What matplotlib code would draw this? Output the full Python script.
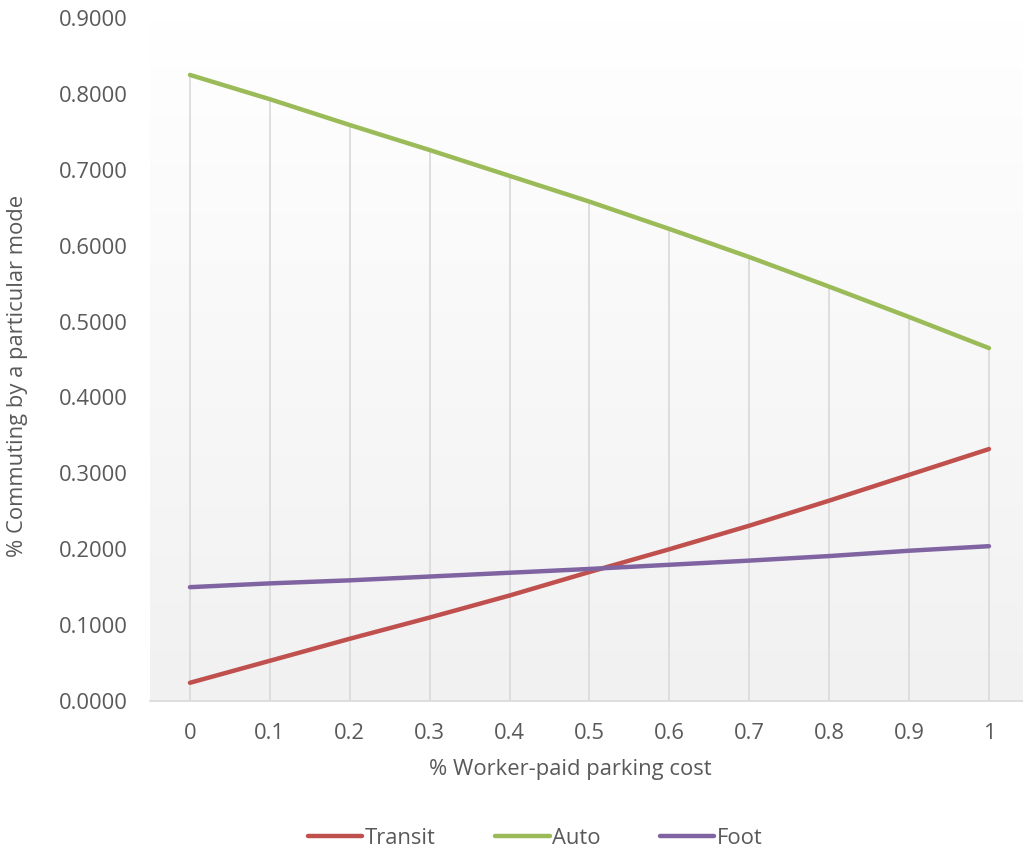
import matplotlib.pyplot as plt
import numpy as np

# worker-paid share of parking cost
cost_share = [0, 0.1, 0.2, 0.3, 0.4, 0.5, 0.6, 0.7, 0.8, 0.9, 1]
x_labels = ["0", "0.1", "0.2", "0.3", "0.4", "0.5", "0.6", "0.7", "0.8", "0.9", "1"]

# mode shares
transit = [0.024, 0.053, 0.082, 0.110, 0.139, 0.170, 0.200, 0.231, 0.264, 0.298, 0.332]
auto = [0.825, 0.793, 0.759, 0.726, 0.692, 0.658, 0.622, 0.585, 0.546, 0.506, 0.465]
foot = [0.150, 0.155, 0.159, 0.164, 0.169, 0.174, 0.1795, 0.185, 0.191, 0.198, 0.204]

y_ticks = [0.0, 0.1, 0.2, 0.3, 0.4, 0.5, 0.6, 0.7, 0.8, 0.9]

text_col = "#595959"
fs = 15.8
plt.rcParams["font.family"] = ["Open Sans", "DejaVu Sans"]

fig = plt.figure(figsize=(10.23, 8.55), dpi=100)
ax = fig.add_axes([150 / 1023, 154 / 855, 873 / 1023, 683 / 855])

xmin, xmax = -0.05, (1023 - 190) / 799
ax.set_xlim(xmin, xmax)
ax.set_ylim(0, 0.9)

# plot area gradient: white at top to light grey at bottom
grad = np.linspace(1.0, 0.0, 256).reshape(-1, 1)
c_top = np.array([1.0, 1.0, 1.0])
c_bot = np.array([0xF1, 0xF1, 0xF1]) / 255
img = c_bot + (c_top - c_bot) * grad[..., None]
ax.imshow(img, extent=[0, 1, 0, 1], transform=ax.transAxes, aspect="auto", zorder=0)

# drop lines from highest series down to the axis
tops = np.max([transit, auto, foot], axis=0)
ax.vlines(cost_share, 0, tops, color="#d9d9d9", lw=1.2, zorder=1)

ax.plot(cost_share, transit, color="#C0504D", lw=3.2, label="Transit", solid_capstyle="round", zorder=3)
ax.plot(cost_share, auto, color="#9BBB59", lw=3.2, label="Auto", solid_capstyle="round", zorder=3)
ax.plot(cost_share, foot, color="#8064A2", lw=3.2, label="Foot", solid_capstyle="round", zorder=3)

for s in ["top", "right", "left"]:
    ax.spines[s].set_visible(False)
ax.spines["bottom"].set_color("#d9d9d9")
ax.spines["bottom"].set_linewidth(1.2)

ax.set_xticks(cost_share)
ax.set_xticklabels(x_labels)
ax.set_yticks(y_ticks)
ax.set_yticklabels([f"{v:.4f}" for v in y_ticks])
ax.tick_params(length=0, labelsize=fs, colors=text_col)
ax.tick_params(axis="x", pad=16)
ax.tick_params(axis="y", pad=16)

fig.text(570 / 1023, 1 - 770 / 855, "% Worker-paid parking cost",
         ha="center", va="center", fontsize=fs, color=text_col)
fig.text(18 / 1023, 1 - 376 / 855, "% Commuting by a particular mode", rotation=90,
         ha="center", va="center", fontsize=fs, color=text_col)

leg = fig.legend(loc="center", bbox_to_anchor=(535 / 1023, 1 - 838 / 855), ncol=3,
                 frameon=False, fontsize=fs, handlelength=2.5, handletextpad=0.1,
                 columnspacing=2.7)
for t in leg.get_texts():
    t.set_color(text_col)

fig.savefig("out.png", dpi=100)
